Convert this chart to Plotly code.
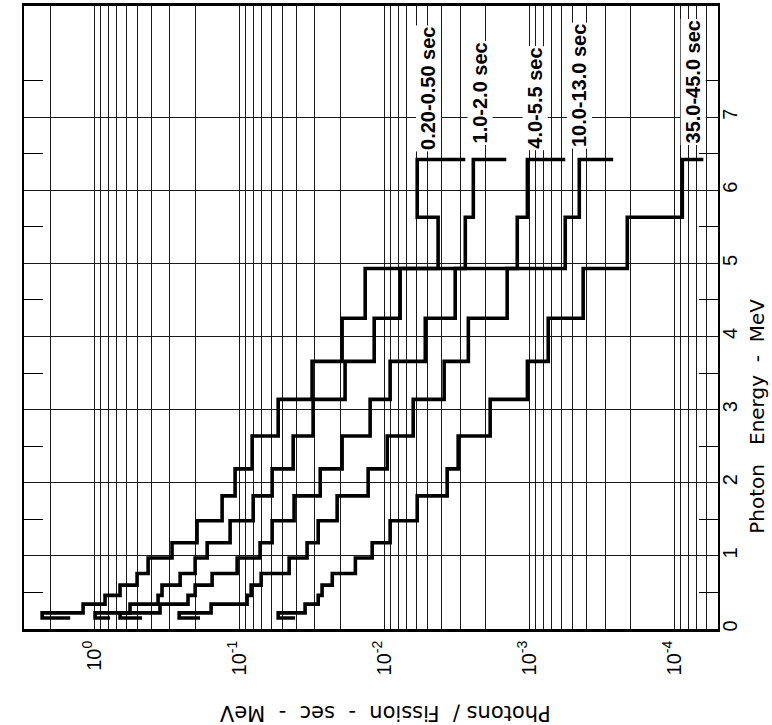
import math
import plotly.graph_objects as go

# Energy bin edges (MeV)
energy_edges = [0.15, 0.22, 0.34, 0.46, 0.60, 0.76, 0.97, 1.18, 1.48, 1.82,
                2.19, 2.64, 3.14, 3.66, 4.25, 4.93, 5.63, 6.42]

# Photons / fission-sec-MeV per energy bin
series_names = ["0.20-0.50 sec", "1.0-2.0 sec", "4.0-5.5 sec", "10.0-13.0 sec", "35.0-45.0 sec"]

c1 = [2.28, 1.19, 0.84, 0.662, 0.505, 0.424, 0.290, 0.195, 0.131, 0.1066, 0.0813,
      0.0538, 0.0314, 0.0195, 0.01352, 0.00425, 0.00592]
c2 = [0.984, 0.565, 0.362, 0.340, 0.255, 0.201, 0.166, 0.1154, 0.080, 0.0592, 0.0424,
      0.0309, 0.0186, 0.01172, 0.00776, 0.00276, 0.00243]
c3 = [0.662, 0.351, 0.225, 0.201, 0.1535, 0.1032, 0.0717, 0.0592, 0.0418, 0.0276, 0.0195,
      0.0125, 0.0091, 0.00521, 0.00324, 0.00121, 0.00103]
c4 = [0.259, 0.156, 0.0881, 0.0826, 0.0705, 0.0452, 0.0340, 0.0285, 0.0211, 0.0129, 0.00953,
      0.00631, 0.00386, 0.00263, 0.00142, 0.000565, 0.000452]
c5 = [0.0538, 0.0351, 0.0285, 0.0268, 0.0228, 0.0158, 0.0121, 0.0091, 0.00592, 0.00368, 0.00309,
      0.00186, 0.00103, 0.00074, 0.000425, 0.000211, 0.0000881]
series_values = [c1, c2, c3, c4, c5]

# short tail stubs drawn at the first and last bin edges
start_tails = [1.46, 0.776, 0.467, 0.186, 0.0411]
end_tails = [0.00276, 0.00144, 0.000565, 0.000264, 0.0000631]

decades = [0, -1, -2, -3, -4]
decade_labels = ["10<sup>0</sup>", "10<sup>-1</sup>", "10<sup>-2</sup>", "10<sup>-3</sup>", "10<sup>-4</sup>"]
energy_ticks = [0, 1, 2, 3, 4, 5, 6, 7]

# ---------------------------------------------------------------
fig = go.Figure()
for vals, s0, s1 in zip(series_values, start_tails, end_tails):
    xs = [s0] + list(vals) + [s1]
    ys = [energy_edges[0]] + list(energy_edges)
    fig.add_trace(go.Scatter(x=xs, y=ys, mode="lines",
                             line=dict(color="black", width=3.6, shape="vh"),
                             showlegend=False, hoverinfo="skip"))

# log grid positions: decades labelled, 2..9 sub-lines as minor grid
major_vals = [10 ** d for d in decades]
minor_vals = [2.0]
for d in decades:
    for k in range(2, 10):
        minor_vals.append(k * 10 ** d)
for k in range(6, 10):
    minor_vals.append(k * 1e-5)

fig.update_xaxes(type="log", range=[math.log10(3.04), math.log10(5e-5)],
                 tickmode="array", tickvals=major_vals, ticktext=decade_labels,
                 tickangle=-90, ticks="", ticklabelstandoff=1,
                 tickfont=dict(family="Liberation Sans", size=20, color="black"),
                 showgrid=True, gridcolor="#1a1a1a", gridwidth=1,
                 minor=dict(tickvals=minor_vals, ticks="", showgrid=True,
                            gridcolor="#1a1a1a", gridwidth=1),
                 showline=True, linecolor="black", linewidth=2.5, mirror=True,
                 zeroline=False)

fig.update_yaxes(range=[0, 8.52], side="right",
                 tickmode="array", tickvals=energy_ticks,
                 ticktext=[str(t) for t in energy_ticks],
                 tickangle=-90, ticks="", ticklabelstandoff=-7,
                 tickfont=dict(family="Liberation Sans", size=20, color="black"),
                 showgrid=True, gridcolor="#1a1a1a", gridwidth=1,
                 showline=True, linecolor="black", linewidth=2, mirror="ticks",
                 zeroline=False,
                 minor=dict(tickvals=[t + 0.5 for t in energy_ticks], ticks="inside",
                            ticklen=19, tickwidth=1, tickcolor="black", showgrid=False))

label_shift = [11, 7, 8, 0, 11]
label_y = [6.52, 6.61, 6.54, 6.56, 6.61]
for name, vals, xs_, yy in zip(series_names, series_values, label_shift, label_y):
    fig.add_annotation(x=math.log10(vals[-1]), y=yy, xref="x", yref="y",
                       text="<b>" + name + "</b>", textangle=-90, showarrow=False,
                       xanchor="center", yanchor="bottom", xshift=xs_,
                       font=dict(family="Liberation Sans", size=20, color="black"),
                       bgcolor="white", borderpad=1)

fig.add_annotation(x=0.52, y=-0.136, xref="paper", yref="paper",
                   text="Photons /  Fission  -  sec  -  MeV", textangle=180, showarrow=False,
                   xanchor="center", yanchor="middle",
                   font=dict(family="DejaVu Sans", size=21, color="black"))
fig.add_annotation(x=1.056, y=0.342, xref="paper", yref="paper",
                   text="Photon   Energy  -  MeV", textangle=-90, showarrow=False,
                   xanchor="center", yanchor="middle",
                   font=dict(family="DejaVu Sans", size=20, color="black"))

fig.update_layout(width=772, height=725, margin=dict(l=24, r=54, t=3, b=96),
                  paper_bgcolor="white", plot_bgcolor="white", showlegend=False)

fig.write_html("out.html", config={"displayModeBar": False},
               post_script="document.body.style.margin='0px';document.body.style.padding='0px';")
